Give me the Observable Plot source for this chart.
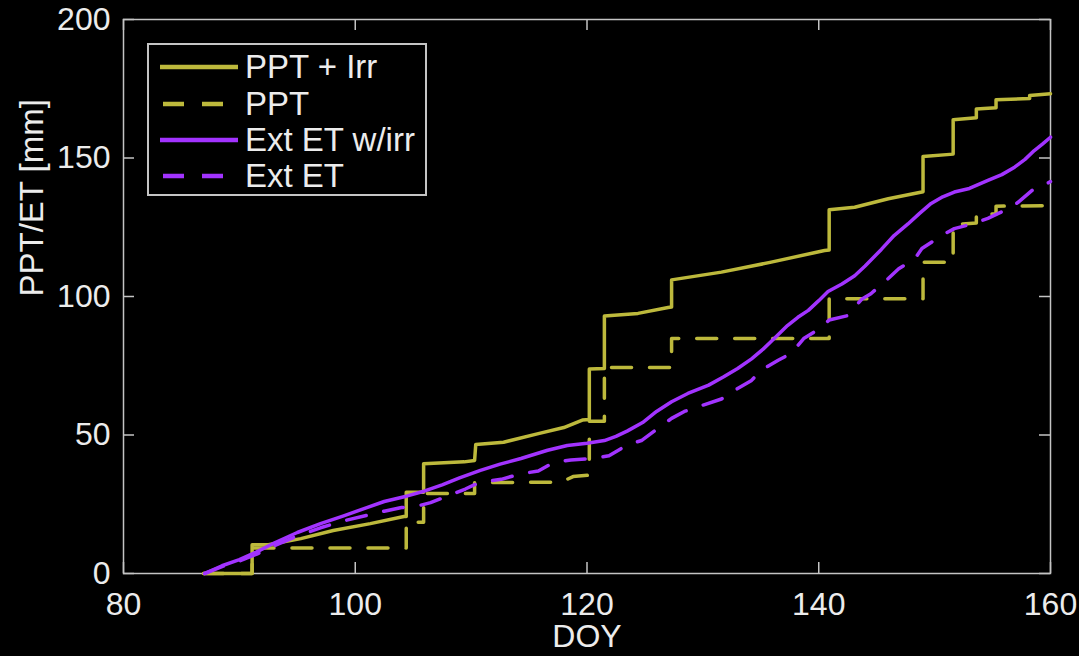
<!DOCTYPE html>
<html>
<head>
<meta charset="utf-8">
<script src="https://cdn.jsdelivr.net/npm/d3@7"></script>
<script src="https://cdn.jsdelivr.net/npm/@observablehq/plot@0.6"></script>
<style>
  html, body { margin: 0; padding: 0; background: #000; }
  #wrap { position: relative; width: 1079px; height: 656px; background: #000; font-family: "Liberation Sans", Arial, Helvetica, sans-serif; }
  #legend { position: absolute; left: 147px; top: 43px; width: 276px; height: 149px; border: 2px solid #c4c4c4; background: #000; }
  .row { position: absolute; left: 0; height: 36px; width: 276px; }
  .row svg { position: absolute; left: 11px; top: 13px; }
  .row span { position: absolute; left: 96px; top: 0; line-height: 36px; font-size: 33px; color: #ececec; white-space: nowrap; }
</style>
</head>
<body>
<div id="wrap"></div>
<script>
// ---- data ----
const xTicks = [80, 100, 120, 140, 160];
const yTicks = [0, 50, 100, 150, 200];
const seriesNames = ["PPT + Irr", "PPT", "Ext ET w/irr", "Ext ET"];
const seriesColors = ["#bdb93c", "#bdb93c", "#a233ff", "#a233ff"];

// cumulative precipitation + irrigation [DOY, mm]
const pptIrr = [
  [86.9,0],[91.1,0],[91.1,10.4],[92.5,10.4],[95.3,12.6],[98.1,15.5],[101.3,18],[104.2,20.6],
  [104.4,20.6],[104.4,29.3],[105.9,29.3],[105.9,39.6],[109.4,40.3],[110.3,40.8],[110.4,46.6],
  [112.8,47.4],[115.8,50.5],[118,52.7],[119.6,55.4],[120.2,55.6],[120.2,73.8],[121.5,74],
  [121.5,93],[124.4,93.9],[127.0,96],[127.3,96.2],[127.3,106],[131.6,108.8],[135.9,112.4],
  [140.5,116.6],[140.9,116.8],[140.9,131.3],[143.1,132.2],[146,135.3],[148.9,137.7],
  [149.0,137.8],[149.0,150.5],[151.6,151.4],[151.6,163.8],[153.6,164.5],[153.6,167.7],
  [155.3,168.1],[155.3,171],[158.2,171.5],[158.2,172.6],[160,173.2]
];
// cumulative precipitation [DOY, mm]
const ppt = [
  [86.9,0],[91.1,0],[91.1,9.2],[104.4,9.2],[104.4,18.5],[105.9,18.5],[105.9,28.9],
  [110.3,28.9],[110.3,32.8],[117.8,33],[118.8,35],[120.2,35.5],[120.2,55],[121.5,55],
  [121.5,74.4],[127.3,74.4],[127.3,84.8],[140.9,84.8],[140.9,99.2],[149,99.2],[149,112.4],
  [151.6,112.4],[151.6,126],[153.6,126.5],[153.6,129.6],[155.3,129.8],[155.3,132.6],[160,132.8]
];
// cumulative extended ET with irrigation [DOY, mm]
const etIrr = [
  [87,0],[88.5,2.8],[90,5],[91.5,7.8],[93,11],[95,14.8],[97,18],[99,20.8],[101,23.8],
  [102.5,26],[104.5,28],[106,29.8],[107.5,32],[109,34.5],[110.8,37.2],[112.5,39.5],
  [114.3,41.5],[116.6,44.5],[118.3,46.2],[120,47],[121.5,48],[122.5,49.5],[123.5,51.5],
  [124.8,54.5],[126,58.5],[127.3,62],[128.7,65],[130.5,68],[131.8,71],[133,74],[134.2,77.5],
  [135.2,81],[136.2,85],[137.3,89.5],[138.2,92.5],[139.1,95],[140,98.5],[140.8,101.8],
  [142,104.5],[143.1,107.5],[144,111],[145.4,117],[146.5,122],[147.7,126.2],[148.7,130],
  [149.7,133.6],[150.7,136],[151.7,137.7],[153,139],[154.6,141.9],[155.8,144],[156.9,146.7],
  [157.8,149.5],[158.6,152.7],[159.3,155],[160,157.5]
];
// cumulative extended ET [DOY, mm]
const et = [
  [87,0],[88.5,2.5],[90,4.5],[91.5,7],[93,10],[95,13.5],[97,16.5],[99,19],[101,21],
  [102.5,22.5],[104,23.8],[105.5,24.5],[106.5,25.6],[108,28],[109.5,30.5],[110.8,33],
  [112.6,34],[114.3,36],[115.8,37],[117.1,40],[118.6,41],[120.3,41.5],[121.9,42.5],
  [123.5,46.5],[124.7,48],[126,52],[127.3,56],[128.4,58.5],[129.8,60.5],[131.6,63],
  [132.4,65.3],[133.3,67.5],[134.2,69.7],[135,73.3],[136.5,77],[137.6,79.4],[138.7,84.8],
  [139.8,87.7],[140.9,91.5],[142.5,93.1],[143.7,99],[144.5,101],[146,106.5],[146.9,110],
  [148.3,113.7],[148.9,117.3],[150.6,122],[151.7,124.5],[153.4,126.4],[154.6,128.2],
  [155.5,130],[156.4,131.8],[157.2,134],[158.6,139],[159.8,141],[160,141.5]
];

// ---- layout ----
const W = 1079, H = 656;
const mL = 123, mR = 29, mT = 19, mB = 83;
const innerW = W - mL - mR, innerH = H - mT - mB;
const tickLen = 11;
const axisColor = "#c4c4c4";
const dash = "20 18";
const lw = 3.5;

const chart = Plot.plot({
  width: W, height: H,
  marginLeft: mL, marginRight: mR, marginTop: mT, marginBottom: mB,
  style: { background: "#000", color: "#ececec", fontFamily: "'Liberation Sans', Arial, Helvetica, sans-serif" },
  x: { domain: [80, 160] },
  y: { domain: [0, 200] },
  marks: [
    Plot.frame({ stroke: axisColor, strokeWidth: 1.5 }),
    Plot.tickX(xTicks, { x: d => d, stroke: axisColor, strokeWidth: 1.5, insetTop: innerH - tickLen }),
    Plot.tickX(xTicks, { x: d => d, stroke: axisColor, strokeWidth: 1.5, insetBottom: innerH - tickLen }),
    Plot.tickY(yTicks, { y: d => d, stroke: axisColor, strokeWidth: 1.5, insetRight: innerW - tickLen }),
    Plot.tickY(yTicks, { y: d => d, stroke: axisColor, strokeWidth: 1.5, insetLeft: innerW - tickLen }),
    Plot.axisX(xTicks, { tickSize: 0, tickPadding: 19, fontSize: 32, label: null }),
    Plot.axisY(yTicks, { tickSize: 0, tickPadding: 13, fontSize: 32, label: null }),
    Plot.text(["DOY"], { frameAnchor: "bottom", dy: 73, fontSize: 32, fill: "currentColor" }),
    Plot.text(["PPT/ET [mm]"], { frameAnchor: "left", rotate: -90, dx: -91, fontSize: 33, fill: "currentColor" }),
    Plot.line(pptIrr, { x: d => d[0], y: d => d[1], stroke: seriesColors[0], strokeWidth: lw }),
    Plot.line(ppt, { x: d => d[0], y: d => d[1], stroke: seriesColors[1], strokeWidth: lw, strokeDasharray: dash }),
    Plot.line(etIrr, { x: d => d[0], y: d => d[1], stroke: seriesColors[2], strokeWidth: lw }),
    Plot.line(et, { x: d => d[0], y: d => d[1], stroke: seriesColors[3], strokeWidth: lw, strokeDasharray: dash })
  ]
});

const wrap = document.getElementById("wrap");
wrap.appendChild(chart);

// legend
const legend = document.createElement("div");
legend.id = "legend";
const rowTops = [4, 41, 77, 113];
seriesNames.forEach((name, i) => {
  const row = document.createElement("div");
  row.className = "row";
  row.style.top = rowTops[i] + "px";
  const dashed = i % 2 === 1;
  row.innerHTML =
    `<svg width="80" height="10"><line x1="${dashed ? 3 : 0}" x2="78" y1="5" y2="5" stroke="${seriesColors[i]}" stroke-width="4.5" ${dashed ? 'stroke-dasharray="21 18"' : ''}/></svg>` +
    `<span>${name}</span>`;
  legend.appendChild(row);
});
wrap.appendChild(legend);
</script>
</body>
</html>
